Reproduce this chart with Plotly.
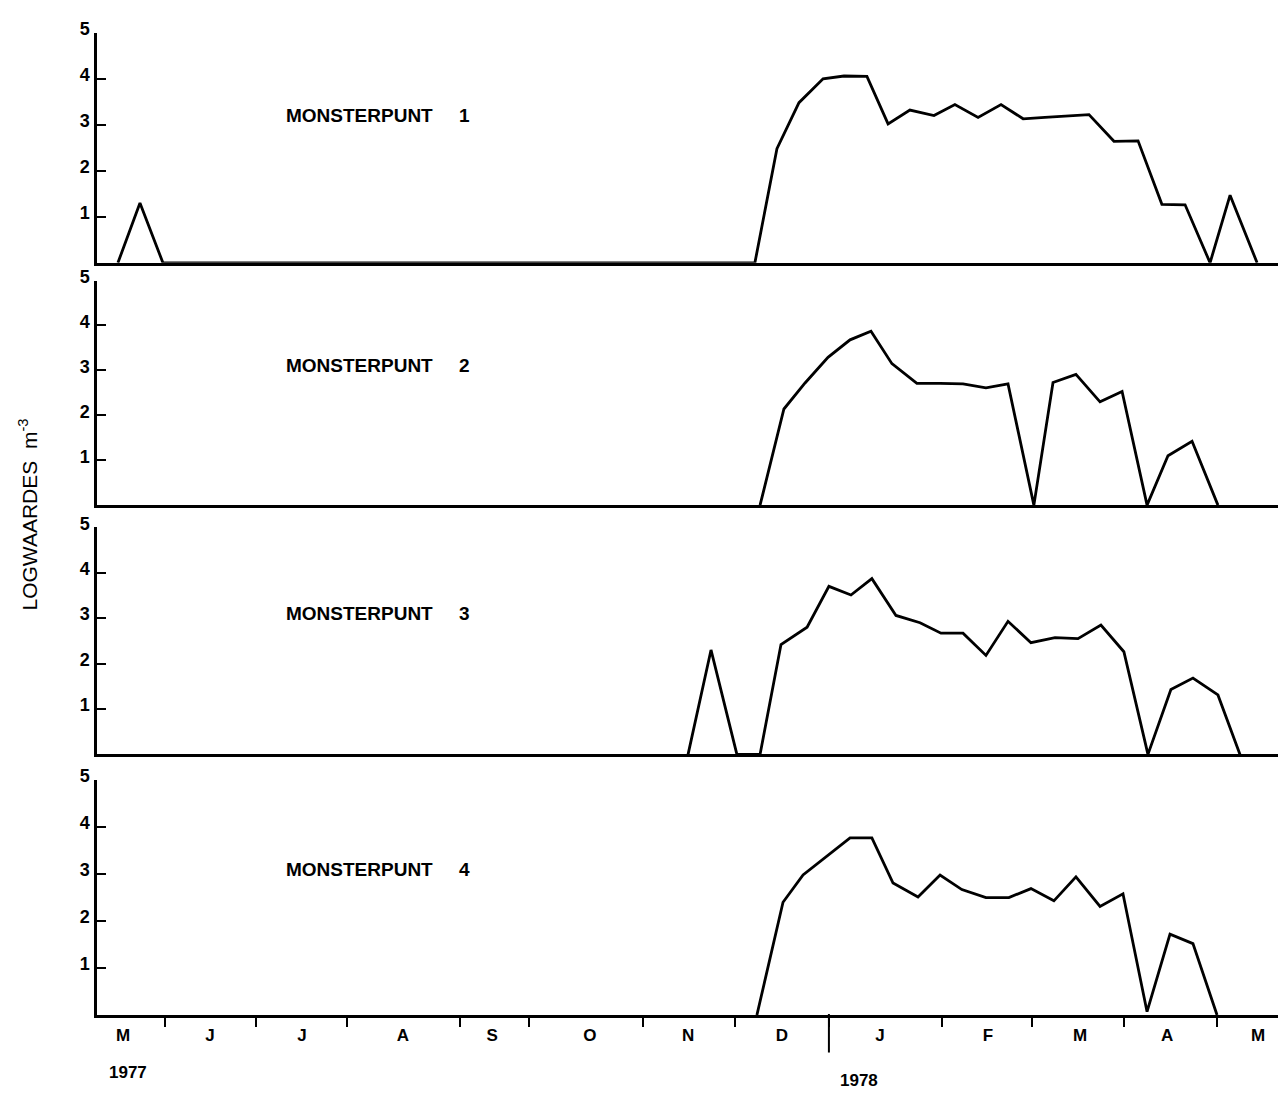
import plotly.graph_objects as go

# ---------------- data ----------------
# x positions are in weeks from the start of the time axis (early May 1977)
month_bounds = [3.02, 7.07, 11.11, 16.13, 19.20, 24.27, 28.36, 32.53, 37.56, 41.56, 45.64, 49.78]
month_label_pos = [1.16, 5.02, 9.11, 13.6, 17.56, 21.91, 26.27, 30.44, 34.8, 39.6, 43.69, 47.56, 51.6]
month_labels = ["M", "J", "J", "A", "S", "O", "N", "D", "J", "F", "M", "A", "M"]
year_labels = ["1977", "1978"]
year_pos = [1.38, 33.87]
year_sep = 32.53

y_ticks = [1, 2, 3, 4, 5]

p1_x = [0.93, 1.91, 2.93, 29.24, 30.22, 31.2, 32.27, 33.2, 34.22, 35.16, 36.13, 37.2, 38.13, 39.16,
        40.18, 41.16, 42.13, 43.11, 44.09, 45.2, 46.27, 47.33, 48.36, 49.47, 50.36, 51.56]
p1_y = [0, 1.3, 0, 0, 2.48, 3.48, 4.0, 4.06, 4.05, 3.02, 3.32, 3.2, 3.44, 3.16,
        3.44, 3.13, 3.16, 3.19, 3.22, 2.64, 2.65, 1.27, 1.26, 0, 1.47, 0]

p2_x = [29.47, 30.53, 31.47, 32.49, 33.47, 34.4, 35.33, 36.44, 37.47, 38.49, 39.51, 40.49, 41.64,
        42.49, 43.51, 44.58, 45.56, 46.67, 47.6, 48.67, 49.82]
p2_y = [0, 2.14, 2.72, 3.29, 3.68, 3.87, 3.15, 2.71, 2.71, 2.70, 2.61, 2.70, 0,
        2.73, 2.91, 2.30, 2.53, 0, 1.1, 1.42, 0]

p3_x = [26.27, 27.29, 28.44, 29.47, 30.4, 31.56, 32.53, 33.51, 34.44, 35.51, 36.58, 37.51, 38.49,
        39.51, 40.49, 41.51, 42.58, 43.6, 44.62, 45.64, 46.71, 47.73, 48.71, 49.82, 50.8]
p3_y = [0, 2.3, 0, 0, 2.42, 2.8, 3.7, 3.51, 3.87, 3.06, 2.9, 2.67, 2.67,
        2.18, 2.93, 2.46, 2.57, 2.55, 2.85, 2.26, 0, 1.43, 1.68, 1.31, 0]

p4_x = [29.33, 30.49, 31.38, 32.4, 33.47, 34.44, 35.38, 36.49, 37.47, 38.44, 39.51, 40.53, 41.51,
        42.53, 43.51, 44.58, 45.6, 46.67, 47.69, 48.71, 49.78]
p4_y = [0, 2.40, 2.98, 3.37, 3.77, 3.77, 2.81, 2.51, 2.98, 2.67, 2.50, 2.50, 2.69,
        2.43, 2.94, 2.31, 2.58, 0.07, 1.72, 1.52, 0]

panel_names = ["MONSTERPUNT\u00a0\u00a0\u00a0\u00a0\u00a01", "MONSTERPUNT\u00a0\u00a0\u00a0\u00a0\u00a02",
               "MONSTERPUNT\u00a0\u00a0\u00a0\u00a0\u00a03", "MONSTERPUNT\u00a0\u00a0\u00a0\u00a0\u00a04"]
label_x = 12.5
label_y = [3.2, 3.1, 3.1, 3.1]
y_title = "LOGWAARDES\u00a0\u00a0m<sup>-3</sup>"

# ---------------- layout ----------------
W, H = 1281, 1093
FONT = "Liberation Sans, Arial, Helvetica, sans-serif"
x_range = [0, 52.49]
x_dom = [97 / W, 1278 / W]
panel_px = [(19, 252), (270, 497.5), (520, 750), (776, 1014)]
y_doms = [[1 - b / H, 1 - t / H] for t, b in panel_px]

series = [(p1_x, p1_y), (p2_x, p2_y), (p3_x, p3_y), (p4_x, p4_y)]

fig = go.Figure()
for i, (xs, ys) in enumerate(series):
    sfx = "" if i == 0 else str(i + 1)
    fig.add_trace(go.Scatter(x=xs, y=ys, mode="lines", xaxis="x" + sfx, yaxis="y" + sfx,
                             line=dict(color="black", width=2.8), showlegend=False,
                             hoverinfo="skip"))

layout = dict(width=W, height=H, margin=dict(l=0, r=0, t=0, b=0),
              paper_bgcolor="white", plot_bgcolor="white",
              font=dict(family=FONT, color="black"), showlegend=False)

for i in range(4):
    sfx = "" if i == 0 else str(i + 1)
    xa = dict(domain=x_dom, range=x_range, anchor="y" + sfx, showgrid=False, zeroline=False,
              showline=True, linecolor="black", linewidth=2.5, fixedrange=True)
    if i < 3:
        xa.update(showticklabels=False, ticks="")
    else:
        xa.update(tickmode="array", tickvals=month_label_pos, ticktext=month_labels, ticks="",
                  tickfont=dict(family=FONT, size=17, color="black", weight="bold"),
                  minor=dict(tickmode="array", tickvals=month_bounds, ticks="outside",
                             ticklen=9, tickwidth=2, tickcolor="black"),
                  ticklabelstandoff=3)
    if i > 0:
        xa["matches"] = "x"
    ya = dict(domain=y_doms[i], range=[0, 5], anchor="x" + sfx, showgrid=False, zeroline=False,
              showline=True, linecolor="black", linewidth=2.5, tickmode="array", tickvals=y_ticks,
              ticks="inside", ticklen=9, tickwidth=2, tickcolor="black",
              tickfont=dict(family=FONT, size=18, color="black", weight="bold"),
              ticklabelshift=-4, ticklabelstandoff=1, fixedrange=True)
    layout["xaxis" + sfx] = xa
    layout["yaxis" + sfx] = ya

annotations = []
for i, name in enumerate(panel_names):
    sfx = "" if i == 0 else str(i + 1)
    annotations.append(dict(x=label_x, y=label_y[i], xref="x" + sfx, yref="y" + sfx, text=name,
                            showarrow=False, xanchor="center", yanchor="middle",
                            font=dict(family=FONT, size=19, color="black", weight="bold")))
for txt, xp, yp in zip(year_labels, year_pos, [1 - 1072 / H, 1 - 1080 / H]):
    annotations.append(dict(x=xp, y=yp, xref="x4", yref="paper", text=txt, showarrow=False,
                            xanchor="center", yanchor="middle",
                            font=dict(family=FONT, size=17, color="black", weight="bold")))
annotations.append(dict(x=28 / W, y=1 - 507 / H, xref="paper", yref="paper", text=y_title,
                        textangle=-90, showarrow=False, xanchor="center", yanchor="middle",
                        font=dict(family=FONT, size=21, color="black")))
layout["annotations"] = annotations
layout["shapes"] = [dict(type="line", xref="x4", yref="paper", x0=year_sep, x1=year_sep,
                         y0=1 - 1052 / H, y1=1 - 1013 / H, line=dict(color="black", width=2))]

fig.update_layout(**layout)
fig.write_html("out.html")
